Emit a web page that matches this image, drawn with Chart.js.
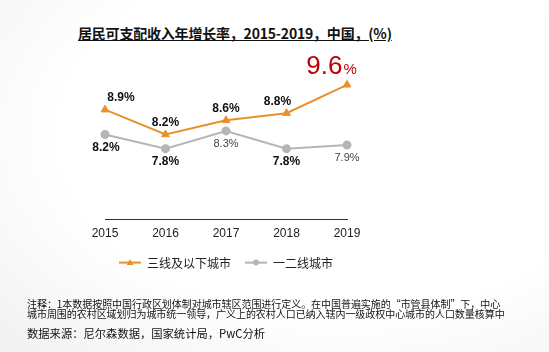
<!DOCTYPE html>
<html>
<head>
<meta charset="utf-8">
<script src="https://cdn.jsdelivr.net/npm/chart.js@4"></script>
<style>
  html, body { margin: 0; padding: 0; }
  body {
    width: 549px; height: 352px; position: relative; overflow: hidden;
    background: radial-gradient(ellipse at 62% 38%, #ffffff 58%, #f1f1f1 100%);
    font-family: "Noto Sans CJK SC", "Liberation Sans", sans-serif;
  }
  #titulo {
    position: absolute; left: 78px; top: 23px;
    font-size: 14px; font-weight: bold; color: #111;
    text-decoration: underline; white-space: nowrap; letter-spacing: -0.2px;
  }
  #nota {
    position: absolute; left: 27px; top: 299px; width: 500px;
    font-size: 10px; line-height: 10px; color: #111; letter-spacing: -0.05px;
  }
  #fonte {
    position: absolute; left: 27px; top: 325px;
    font-size: 11.3px; color: #111; white-space: nowrap;
  }
  #grafico { position: absolute; left: 0; top: 0; }
</style>
</head>
<body>
<div id="titulo">居民可支配收入年增长率，2015-2019，中国，(%)</div>
<canvas id="grafico" width="549" height="352"></canvas>
<div id="nota">注释：1本数据按照中国行政区划体制对城市辖区范围进行定义。在中国普遍实施的“市管县体制”下，中心<br>城市周围的农村区域划归为城市统一领导，广义上的农村人口已纳入辖内一级政权中心城市的人口数量核算中</div>
<div id="fonte">数据来源：尼尔森数据，国家统计局，PwC分析</div>

<script>
// dados do grafico
var anos = ['2015', '2016', '2017', '2018', '2019'];
var nomeSerieA = '三线及以下城市';
var nomeSerieB = '一二线城市';
var serieA = [8.9, 8.2, 8.6, 8.8, 9.6];
var serieB = [8.2, 7.8, 8.3, 7.8, 7.9];

// deslocamento dos rotulos (so estilo)
var desvioA = [16, 0, 0, -9, -16];
var desvioB = [1, 0, 0, 0, 0];

var laranja = '#E8912C';
var cinza = '#B5B5B5';

// rotulos dos pontos
var rotulosPlugin = {
  id: 'rotulos',
  afterDatasetsDraw: function(chart) {
    var ctx = chart.ctx;
    ctx.save();
    ctx.textAlign = 'center';
    ctx.textBaseline = 'middle';
    var metaA = chart.getDatasetMeta(0);
    metaA.data.forEach(function(p, i) {
      var x = p.x + desvioA[i];
      if (i == serieA.length - 1) {
        // ultimo valor em destaque
        ctx.fillStyle = '#C00000';
        ctx.font = '26px "Liberation Sans", Arial, sans-serif';
        var txt = serieA[i].toFixed(1);
        var w = ctx.measureText(txt).width;
        ctx.font = '15px "Liberation Sans", Arial, sans-serif';
        var wp = ctx.measureText('%').width;
        var x0 = x - (w + wp) / 2;
        ctx.textAlign = 'left';
        ctx.font = '26px "Liberation Sans", Arial, sans-serif';
        ctx.fillText(txt, x0, p.y - 18);
        ctx.font = '15px "Liberation Sans", Arial, sans-serif';
        ctx.fillText('%', x0 + w + 1, p.y - 15);
        ctx.textAlign = 'center';
      } else {
        ctx.fillStyle = '#111';
        ctx.font = 'bold 12px "Liberation Sans", Arial, sans-serif';
        ctx.fillText(serieA[i].toFixed(1) + '%', x, p.y - 12);
      }
    });
    var metaB = chart.getDatasetMeta(1);
    metaB.data.forEach(function(p, i) {
      var fraco = (serieB[i] == 8.3 || i == serieB.length - 1);
      ctx.fillStyle = fraco ? '#444' : '#111';
      ctx.font = (fraco ? '' : 'bold ') + (fraco ? '11px' : '12px') + ' "Liberation Sans", Arial, sans-serif';
      ctx.fillText(serieB[i].toFixed(1) + '%', p.x + desvioB[i], p.y + 13);
    });
    ctx.restore();
  }
};

// legenda desenhada embaixo do eixo
var legendaPlugin = {
  id: 'legendaLinha',
  afterDraw: function(chart) {
    var ctx = chart.ctx;
    var area = chart.chartArea;
    var y = area.bottom + 43;
    ctx.save();
    ctx.font = '12px "Noto Sans CJK SC", sans-serif';
    ctx.textBaseline = 'middle';
    var itens = [
      { nome: nomeSerieA, cor: laranja, forma: 'triangle' },
      { nome: nomeSerieB, cor: cinza, forma: 'circle' }
    ];
    var linha = 22, gap = 6, entre = 14;
    var total = 0;
    itens.forEach(function(it, i) {
      total += linha + gap + ctx.measureText(it.nome).width;
      if (i > 0) total += entre;
    });
    var x = (area.left + area.right) / 2 - total / 2;
    itens.forEach(function(it) {
      ctx.strokeStyle = it.cor;
      ctx.lineWidth = 2;
      ctx.beginPath();
      ctx.moveTo(x, y);
      ctx.lineTo(x + linha, y);
      ctx.stroke();
      ctx.fillStyle = it.cor;
      ctx.beginPath();
      if (it.forma == 'circle') {
        ctx.arc(x + linha / 2, y, 3, 0, Math.PI * 2);
      } else {
        ctx.moveTo(x + linha / 2, y - 3.5);
        ctx.lineTo(x + linha / 2 + 3.5, y + 2.5);
        ctx.lineTo(x + linha / 2 - 3.5, y + 2.5);
        ctx.closePath();
      }
      ctx.fill();
      x += linha + gap;
      ctx.fillStyle = '#222';
      ctx.fillText(it.nome, x, y + 1);
      x += ctx.measureText(it.nome).width + entre;
    });
    ctx.restore();
  }
};

var grafico = new Chart(document.getElementById('grafico').getContext('2d'), {
  type: 'line',
  data: {
    labels: anos,
    datasets: [{
      label: nomeSerieA,
      data: serieA,
      borderColor: laranja,
      backgroundColor: laranja,
      borderWidth: 2,
      pointStyle: 'triangle',
      pointRadius: 4.5,
      pointBorderWidth: 1,
      tension: 0,
      clip: false
    }, {
      label: nomeSerieB,
      data: serieB,
      borderColor: cinza,
      backgroundColor: cinza,
      borderWidth: 2,
      pointStyle: 'circle',
      pointRadius: 3.5,
      tension: 0,
      clip: false
    }]
  },
  options: {
    responsive: false,
    animation: false,
    layout: { padding: { left: 105, right: 202, top: 60, bottom: 104 } },
    plugins: {
      legend: { display: false },
      tooltip: { enabled: false }
    },
    scales: {
      x: {
        offset: false,
        grid: { display: true, drawOnChartArea: false, drawTicks: false },
        border: { display: true, color: '#333', width: 1 },
        ticks: {
          color: '#222', padding: 7, maxRotation: 0,
          font: { size: 12, family: '"Liberation Sans", Arial, sans-serif' }
        }
      },
      y: {
        display: false,
        min: 5.8,
        max: 10.3
      }
    }
  },
  plugins: [rotulosPlugin, legendaPlugin]
});
</script>
</body>
</html>
